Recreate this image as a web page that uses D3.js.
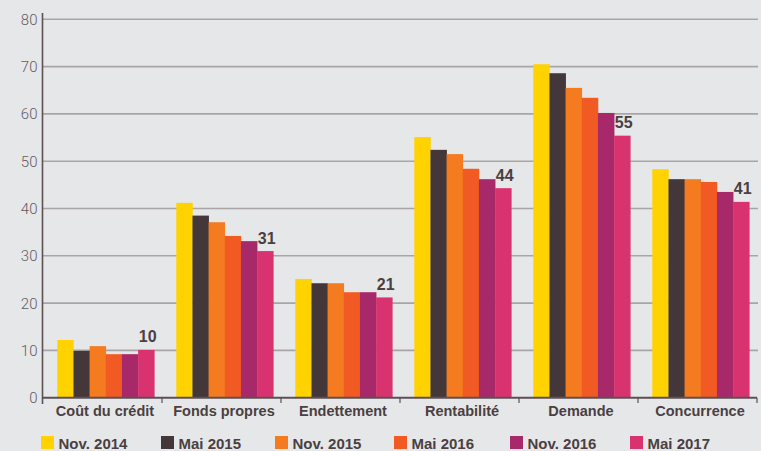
<!DOCTYPE html>
<html>
<head>
<meta charset="utf-8">
<script src="https://cdn.jsdelivr.net/npm/d3@7/dist/d3.min.js"></script>
<style>
  html, body { margin: 0; padding: 0; background: #e6e7e9; }
  svg { display: block; }
</style>
</head>
<body>
<svg id="chart" width="761" height="451"></svg>
<script>
const categories = ["Coût du crédit", "Fonds propres", "Endettement", "Rentabilité", "Demande", "Concurrence"];
const seriesNames = ["Nov. 2014", "Mai 2015", "Nov. 2015", "Mai 2016", "Nov. 2016", "Mai 2017"];
const seriesColors = ["#ffd200", "#443739", "#f47b20", "#f15a22", "#a8296a", "#d9336f"];
const nov2014 = [12.2, 41.2, 25.1, 55.1, 70.5, 48.3];
const mai2015 = [9.9, 38.5, 24.2, 52.4, 68.6, 46.2];
const nov2015 = [10.9, 37.1, 24.2, 51.5, 65.5, 46.2];
const mai2016 = [9.2, 34.2, 22.3, 48.4, 63.4, 45.6];
const nov2016 = [9.2, 33.1, 22.3, 46.2, 60.2, 43.5];
const mai2017 = [10.1, 31.0, 21.2, 44.3, 55.4, 41.4];
const yTicks = [0, 10, 20, 30, 40, 50, 60, 70, 80];

const seriesValues = [nov2014, mai2015, nov2015, mai2016, nov2016, mai2017];

const svg = d3.select("#chart");
const textDark = "#4a3f41";

const y = d3.scaleLinear().domain([0, 80]).range([397.7, 19.3]);
const x0 = d3.scaleBand().domain(categories).range([43, 757]).padding(0);
const x1 = d3.scaleBand().domain(seriesNames).range([14.3, 111.3]).padding(0);

// gridlines
svg.append("g").selectAll("line")
  .data(yTicks.filter(t => t > 0))
  .join("line")
  .attr("x1", 43).attr("x2", 758)
  .attr("y1", d => y(d)).attr("y2", d => y(d))
  .attr("stroke", "#a9a5a6").attr("stroke-width", 1.6);

// y tick labels
svg.append("g").selectAll("text")
  .data(yTicks)
  .join("text")
  .attr("x", 37.5).attr("y", d => y(d))
  .attr("dy", "0.36em")
  .attr("text-anchor", "end")
  .attr("font-family", "Roboto, 'Liberation Sans', sans-serif")
  .attr("font-weight", 300)
  .attr("font-size", "15px")
  .attr("fill", "#645b5d")
  .text(d => d);

// bars
const groups = svg.append("g").selectAll("g")
  .data(categories)
  .join("g")
  .attr("transform", d => `translate(${x0(d)},0)`);

groups.selectAll("rect")
  .data((c, ci) => seriesNames.map((s, si) => ({ s, si, v: seriesValues[si][ci] })))
  .join("rect")
  .attr("x", d => x1(d.s))
  .attr("width", x1.bandwidth() + 0.3)
  .attr("y", d => y(d.v))
  .attr("height", d => y(0) - y(d.v))
  .attr("fill", d => seriesColors[d.si]);

// value labels (last series)
groups.append("text")
  .attr("x", x1(seriesNames[5]) + x1.bandwidth() / 2 + 1.5)
  .attr("y", (c, ci) => y(mai2017[ci]) - 7.5)
  .attr("text-anchor", "middle")
  .attr("font-family", "'Liberation Sans', Arial, sans-serif")
  .attr("font-weight", "bold")
  .attr("font-size", "16px")
  .attr("fill", textDark)
  .text((c, ci) => Math.round(mai2017[ci]));

// axes lines
const axisColor = "#5b5153";
svg.append("line")
  .attr("x1", 42.5).attr("x2", 42.5)
  .attr("y1", 13).attr("y2", 404)
  .attr("stroke", axisColor).attr("stroke-width", 1.6);
svg.append("line")
  .attr("x1", 42).attr("x2", 757)
  .attr("y1", y(0)).attr("y2", y(0))
  .attr("stroke", axisColor).attr("stroke-width", 2);

// category ticks at band boundaries
const boundaries = categories.map(c => x0(c)).concat([x0.range()[1]]);
svg.append("g").selectAll("line")
  .data(boundaries.slice(1))
  .join("line")
  .attr("x1", d => d).attr("x2", d => d)
  .attr("y1", y(0)).attr("y2", 403)
  .attr("stroke", axisColor).attr("stroke-width", 1.2);

// category labels
svg.append("g").selectAll("text")
  .data(categories)
  .join("text")
  .attr("x", d => x0(d) + x0.bandwidth() / 2 + 2.5)
  .attr("y", 415.5)
  .attr("text-anchor", "middle")
  .attr("font-family", "'Liberation Sans', Arial, sans-serif")
  .attr("font-weight", "bold")
  .attr("font-size", "14.5px")
  .attr("fill", textDark)
  .text(d => d);

// legend
const legendX = [41, 161, 275, 394, 510, 630];
const legend = svg.append("g").selectAll("g")
  .data(seriesNames)
  .join("g")
  .attr("transform", (d, i) => `translate(${legendX[i]},436)`);
legend.append("rect")
  .attr("width", 13).attr("height", 13)
  .attr("fill", (d, i) => seriesColors[i]);
legend.append("text")
  .attr("x", 17.5).attr("y", 13)
  .attr("font-family", "'Liberation Sans', Arial, sans-serif")
  .attr("font-weight", "bold")
  .attr("font-size", "15px")
  .attr("fill", textDark)
  .text(d => d);
</script>
</body>
</html>
